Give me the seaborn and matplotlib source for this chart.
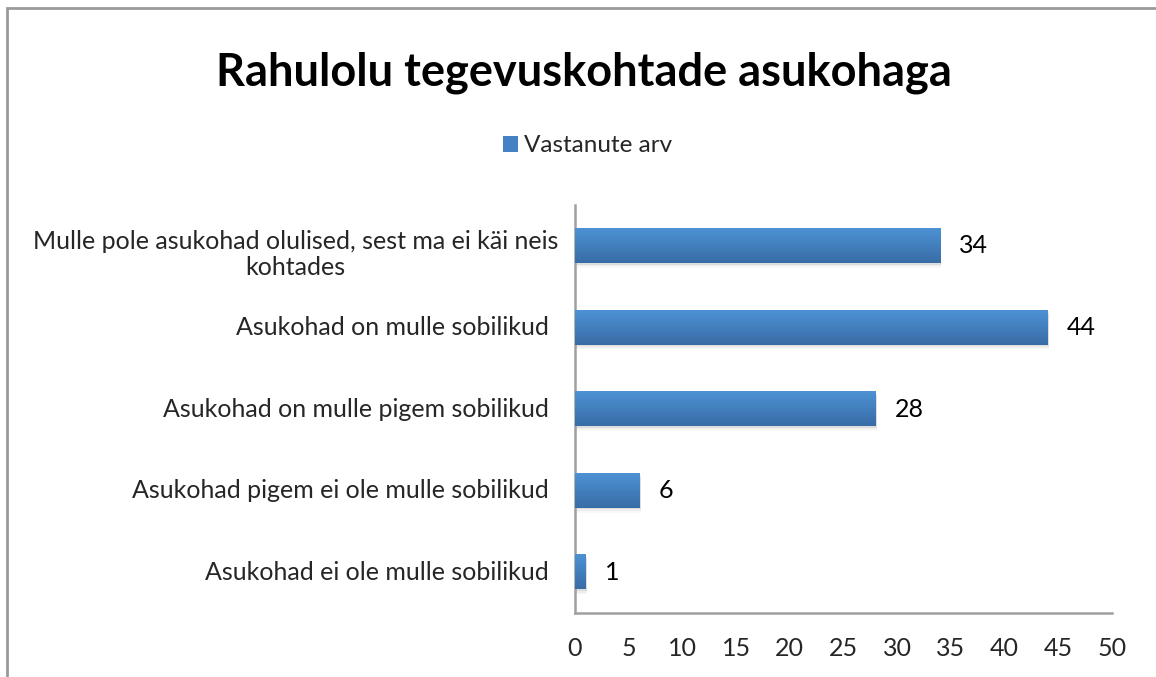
import numpy as np
import pandas as pd
import matplotlib
matplotlib.use('Agg')
import matplotlib.pyplot as plt
import matplotlib.transforms as mtransforms
from matplotlib.patches import Rectangle
import seaborn as sns

# Data
CATEGORIES = [
    'Mulle pole asukohad olulised, sest ma ei käi neis\nkohtades',
    'Asukohad on mulle sobilikud',
    'Asukohad on mulle pigem sobilikud',
    'Asukohad pigem ei ole mulle sobilikud',
    'Asukohad ei ole mulle sobilikud',
]
COUNTS = [34, 44, 28, 6, 1]
SERIES_NAME = 'Vastanute arv'
TITLE = 'Rahulolu tegevuskohtade asukohaga'
X_TICKS = [0, 5, 10, 15, 20, 25, 30, 35, 40, 45, 50]

sns.set_style('white')
plt.rcParams['font.family'] = ['Lato', 'DejaVu Sans']

BAR_TOP = '#4d92d4'
BAR_BOTTOM = '#386ca6'
AXIS_GRAY = '#a0a0a0'

df = pd.DataFrame({'kategooria': CATEGORIES, 'arv': COUNTS})

fig = plt.figure(figsize=(11.56, 6.77), dpi=100)
ax = fig.add_axes([0.4974, 0.0945, 0.4645, 0.6027])

sns.barplot(ax=ax, data=df, x='arv', y='kategooria', orient='h',
            color=BAR_TOP, width=0.42, saturation=1)

# --- gradient fill + soft shadow on each bar ---
grad = np.linspace(0, 1, 64).reshape(-1, 1)
cmap = matplotlib.colors.LinearSegmentedColormap.from_list('bar', [BAR_TOP, BAR_BOTTOM])
for p in list(ax.patches):
    x0, y0, w, h = p.get_x(), p.get_y(), p.get_width(), p.get_height()
    for k, a in enumerate([0.10, 0.07, 0.04]):
        ax.add_patch(Rectangle((x0, y0 + 0.02 + 0.02 * k), w + 0.1, h, color='#606060',
                               alpha=a, lw=0, zorder=1))
    ax.imshow(grad, extent=(x0, x0 + w, y0 + h, y0), origin='upper', cmap=cmap,
              aspect='auto', zorder=3, interpolation='bicubic')
    p.set_visible(False)

ax.set_xlim(0, 50)
ax.set_ylim(4.5, -0.5)
ax.set_xticks(X_TICKS)
ax.set_xlabel('')
ax.set_ylabel('')

# category labels: drawn as texts so the two-line label can be centred
ax.set_yticks(range(len(CATEGORIES)))
ax.set_yticklabels([])
for i, name in enumerate(CATEGORIES):
    if '\n' in name:
        # Excel puts the wrapped label a bit lower / further right
        tr = mtransforms.offset_copy(ax.get_yaxis_transform(), fig=fig, x=-12, y=-6, units='points')
    else:
        tr = mtransforms.offset_copy(ax.get_yaxis_transform(), fig=fig, x=-19, units='points')
    ax.text(0, i, name, transform=tr, ha='right', va='center',
            multialignment='center', linespacing=1.15, fontsize=18)

for i, v in enumerate(COUNTS):
    ax.text(v + 1.75, i, str(v), va='center', ha='left', fontsize=18, color='black')

# --- axes styling (Excel look) ---
for s in ['top', 'right']:
    ax.spines[s].set_visible(False)
for s in ['left', 'bottom']:
    ax.spines[s].set_color(AXIS_GRAY)
    ax.spines[s].set_linewidth(1.8)
ax.tick_params(axis='x', length=8, width=1.8, color=AXIS_GRAY, direction='out',
               labelsize=18, pad=9)
ax.tick_params(axis='y', length=0)

# title and legend
fig.text(0.505, 0.893, TITLE, ha='center', va='center', fontsize=32.5,
         fontweight='bold', color='black')
fig.patches.append(Rectangle((503 / 1156, 1 - 152 / 677), 15 / 1156, 16 / 677,
                             transform=fig.transFigure, facecolor='#4582c4',
                             edgecolor='none', figure=fig))
fig.text(524 / 1156, 1 - 145 / 677, SERIES_NAME, ha='left', va='center', fontsize=17.5)

# chart frame (cut by the image edge on right and bottom)
fig.patches.append(Rectangle((7 / 1156, -0.05), 1.1, 1 - 8 / 677 + 0.05,
                             transform=fig.transFigure, fill=False,
                             edgecolor='#9a9a9a', linewidth=2, figure=fig))

plt.savefig('out.png', dpi=100)
plt.close()
